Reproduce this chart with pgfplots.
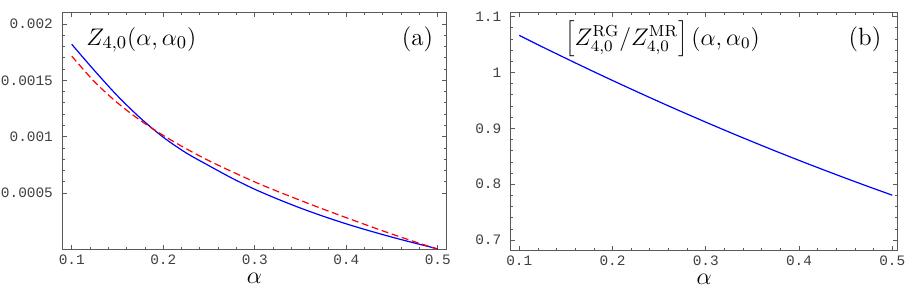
\documentclass[border=0pt]{standalone}
\usepackage{fontspec}
\usepackage{pgfplots}
\pgfplotsset{compat=1.18}
\newfontfamily\tickfont{Liberation Mono}
\definecolor{framec}{gray}{0.35}
\definecolor{tickc}{gray}{0.25}
\pgfplotsset{
  mma/.style={
    scale only axis,
    anchor=north west,
    tick align=inside,
    major tick length=2.2pt,
    minor tick length=1.3pt,
    minor x tick num=4,
    minor y tick num=4,
    axis line style={framec, line width=0.45pt},
    every tick/.style={framec, line width=0.4pt},
    every minor tick/.style={framec, line width=0.35pt},
    scaled ticks=false,
    ticklabel style={font=\tickfont\fontsize{7.2}{8}\selectfont, text=tickc},
    xtick={0.1,0.2,0.3,0.4,0.5},
    xticklabels={0.1,0.2,0.3,0.4,0.5},
    xticklabel style={yshift=-0.6pt, inner sep=1.8pt},
    yticklabel style={xshift=-1.2pt},
    xlabel={$\alpha$},
    xlabel style={at={(axis description cs:0.5,0)}, anchor=center, yshift=-14.4pt, inner sep=0pt, font=\fontsize{12.5}{14}\selectfont},
    clip=true,
  }
}
\begin{document}
\begin{tikzpicture}
\path[use as bounding box] (0,0) rectangle (452.5pt,-145.5pt);
\begin{axis}[mma,
  at={(31.15pt,-6.35pt)},
  width=192.2pt, height=118.3pt,
  xmin=0.0897, xmax=0.5098,
  ymin=0, ymax=0.0021,
  ytick={0.0005,0.001,0.0015,0.002},
  yticklabels={0.0005,0.001,0.0015,0.002},
]
\addplot[blue, line width=0.6pt, smooth] coordinates {
(0.100,0.001820) (0.125,0.001585) (0.150,0.001362) (0.175,0.001165)
(0.200,0.000995) (0.225,0.000856) (0.250,0.000742) (0.275,0.000632)
(0.300,0.000533) (0.325,0.000446) (0.350,0.000366) (0.375,0.000293)
(0.400,0.000226) (0.425,0.000165) (0.450,0.000108) (0.475,0.000055)
(0.500,0.000004)
};
\addplot[red, line width=0.6pt, smooth, dash pattern=on 3.5pt off 1.8pt] coordinates {
(0.100,0.001715) (0.125,0.001486) (0.150,0.001300) (0.175,0.001144)
(0.200,0.001011) (0.225,0.000893) (0.250,0.000786) (0.275,0.000690)
(0.300,0.000598) (0.325,0.000514) (0.350,0.000434) (0.375,0.000356)
(0.400,0.000281) (0.425,0.000207) (0.450,0.000135) (0.475,0.000067)
(0.500,0.000000)
};
\node[anchor=base west, inner sep=0pt, font=\fontsize{12.5}{14}\selectfont] at (rel axis cs:0.0617,0.8635) {$Z_{4,0}(\alpha,\alpha_0)$};
\node[anchor=base, inner sep=0pt, font=\fontsize{12.5}{14}\selectfont] at (rel axis cs:0.924,0.8635) {(a)};
\end{axis}
\begin{axis}[mma,
  at={(255.35pt,-6.35pt)},
  width=193.5pt, height=119pt,
  xmin=0.0908, xmax=0.5058,
  ymin=0.681, ymax=1.107,
  ytick={0.7,0.8,0.9,1,1.1},
  yticklabels={0.7,0.8,0.9,1,1.1},
]
\addplot[blue, line width=0.6pt, smooth] coordinates {
(0.100,1.0664) (0.125,1.0456) (0.150,1.0253) (0.175,1.0053) (0.200,0.9857)
(0.225,0.9665) (0.250,0.9476) (0.275,0.9292) (0.300,0.9111)
(0.325,0.8934) (0.350,0.8761) (0.375,0.8592) (0.400,0.8427)
(0.425,0.8266) (0.450,0.8108) (0.475,0.7954) (0.500,0.7804)
};
\node[anchor=base west, inner sep=0pt, font=\fontsize{12}{14}\selectfont] at (rel axis cs:0.140,0.864) {$\left[Z^{\mathrm{RG}}_{4,0}/Z^{\mathrm{MR}}_{4,0}\right](\alpha,\alpha_0)$};
\node[anchor=base, inner sep=0pt, font=\fontsize{12.5}{14}\selectfont] at (rel axis cs:0.9155,0.864) {(b)};
\end{axis}
\end{tikzpicture}
\end{document}
